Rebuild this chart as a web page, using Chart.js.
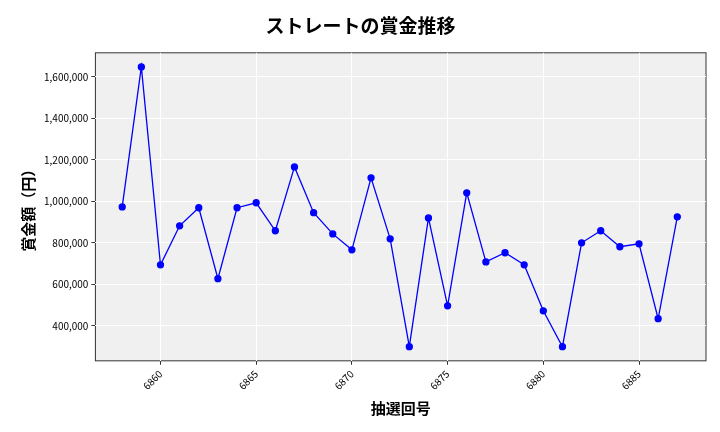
<!DOCTYPE html>
<html>
<head>
<meta charset="utf-8">
<script src="https://cdn.jsdelivr.net/npm/chart.js@4"></script>
<style>
  body { margin: 0; background: #fff; }
  #wrap { width: 720px; height: 432px; }
</style>
</head>
<body>
<div id="wrap"><canvas id="myChart" width="720" height="432"></canvas></div>
<script>
// draw numbers and prize amounts (yen)
const draws = [6858, 6859, 6860, 6861, 6862, 6863, 6864, 6865, 6866, 6867,
  6868, 6869, 6870, 6871, 6872, 6873, 6874, 6875, 6876, 6877,
  6878, 6879, 6880, 6881, 6882, 6883, 6884, 6885, 6886, 6887];
const prizes = [973000, 1648000, 694000, 882000, 969000, 627000, 969000, 993000, 858000, 1166000,
  945000, 843000, 766000, 1113000, 819000, 299000, 920000, 496000, 1041000, 708000,
  752000, 694000, 472000, 299000, 800000, 858000, 781000, 795000, 434000, 925000];

const font = "'Noto Sans CJK JP', 'Noto Sans', sans-serif";

// grey plot area background
const plotBg = {
  id: 'plotBg',
  beforeDraw(chart) {
    const a = chart.chartArea, ctx = chart.ctx;
    ctx.save();
    ctx.fillStyle = '#f0f0f0';
    ctx.fillRect(a.left, a.top, a.right - a.left, a.bottom - a.top);
    ctx.strokeStyle = '#333';
    ctx.lineWidth = 1;
    ctx.strokeRect(a.left, a.top, a.right - a.left, a.bottom - a.top);
    ctx.restore();
  }
};

new Chart(document.getElementById('myChart').getContext('2d'), {
  type: 'line',
  data: {
    datasets: [{
      data: draws.map((d, i) => ({ x: d, y: prizes[i] })),
      borderColor: '#0000ff',
      backgroundColor: '#0000ff',
      borderWidth: 1.3,
      pointRadius: 3,
      tension: 0
    }]
  },
  options: {
    responsive: false,
    animation: false,
    layout: { padding: { left: 15, right: 14, top: 6, bottom: 11 } },
    plugins: {
      legend: { display: false },
      title: {
        display: true,
        text: 'ストレートの賞金推移',
        font: { family: font, size: 19, weight: 'bold' },
        color: '#000',
        padding: { top: 8, bottom: 16 }
      }
    },
    scales: {
      x: {
        type: 'linear',
        min: 6856.6,
        max: 6888.5,
        afterBuildTicks(axis) {
          axis.ticks = [6860, 6865, 6870, 6875, 6880, 6885].map(v => ({ value: v }));
        },
        ticks: {
          maxRotation: 45, minRotation: 45,
          font: { family: font, size: 10 }, color: '#000',
          callback: v => String(v)
        },
        grid: { color: '#ffffff', lineWidth: 1, drawTicks: true, tickColor: '#333', tickLength: 4 },
        border: { display: false },
        title: { display: true, text: '抽選回号', font: { family: font, size: 15, weight: 'bold' }, color: '#000' }
      },
      y: {
        min: 231000,
        max: 1716000,
        afterBuildTicks(axis) {
          axis.ticks = [400000, 600000, 800000, 1000000, 1200000, 1400000, 1600000].map(v => ({ value: v }));
        },
        ticks: {
          font: { family: font, size: 10 }, color: '#000',
          callback: v => v.toLocaleString('en-US')
        },
        grid: { color: '#ffffff', lineWidth: 1, drawTicks: true, tickColor: '#333', tickLength: 4 },
        border: { display: false },
        title: { display: true, text: '賞金額（円）', font: { family: font, size: 15, weight: 'bold' }, color: '#000' }
      }
    }
  },
  plugins: [plotBg]
});
</script>
</body>
</html>
